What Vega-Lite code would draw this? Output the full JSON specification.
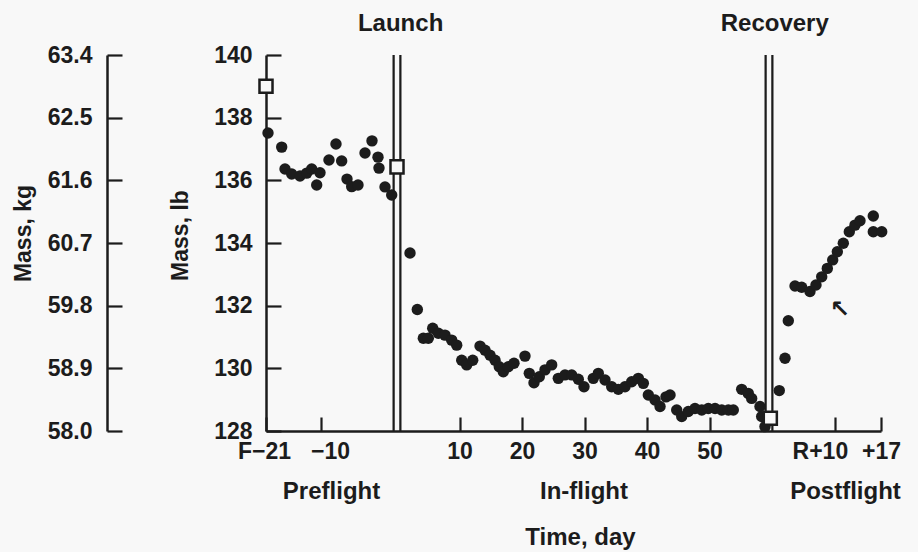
{
  "$schema": "https://vega.github.io/schema/vega-lite/v6.json",
  "width": 615,
  "height": 376,
  "autosize": "none",
  "padding": {"left": 266, "top": 55, "right": 37, "bottom": 121},
  "background": "#f8f8f8",
  "config": {
    "view": {"stroke": null},
    "font": "Liberation Sans",
    "axis": {
      "grid": false,
      "domainColor": "#1c1c1c",
      "domainWidth": 2.5,
      "tickColor": "#1c1c1c",
      "tickWidth": 2.2,
      "labelColor": "#1c1c1c",
      "labelFont": "Liberation Sans",
      "labelFontWeight": "bold",
      "titleColor": "#1c1c1c",
      "titleFont": "Liberation Sans",
      "titleFontWeight": "bold",
      "labelFlush": false,
      "labelOverlap": false
    }
  },
  "datasets": {
    "pts": [
      {"t": -20.6, "lb": 137.51}, {"t": -17.86, "lb": 137.06}, {"t": -17.2, "lb": 136.36}, {"t": -15.86, "lb": 136.2},
      {"t": -14.2, "lb": 136.14}, {"t": -12.86, "lb": 136.23}, {"t": -11.86, "lb": 136.36}, {"t": -10.86, "lb": 135.85},
      {"t": -10.2, "lb": 136.24}, {"t": -8.95, "lb": 136.65}, {"t": -8.03, "lb": 137.16}, {"t": -7.28, "lb": 136.62},
      {"t": -6.58, "lb": 136.04}, {"t": -5.96, "lb": 135.8}, {"t": -5.13, "lb": 135.85}, {"t": -4.21, "lb": 136.87},
      {"t": -3.29, "lb": 137.26}, {"t": -2.5, "lb": 136.74}, {"t": -2.37, "lb": 136.39}, {"t": -1.58, "lb": 135.79},
      {"t": -0.7, "lb": 135.53},
      {"t": 2.08, "lb": 133.68}, {"t": 3.25, "lb": 131.88}, {"t": 4.21, "lb": 130.96}, {"t": 5.01, "lb": 130.96},
      {"t": 5.71, "lb": 131.28}, {"t": 6.61, "lb": 131.12}, {"t": 7.68, "lb": 131.06}, {"t": 8.75, "lb": 130.9},
      {"t": 9.55, "lb": 130.74}, {"t": 10.35, "lb": 130.26}, {"t": 11.15, "lb": 130.11}, {"t": 12.11, "lb": 130.26},
      {"t": 13.28, "lb": 130.71}, {"t": 14.08, "lb": 130.58}, {"t": 14.88, "lb": 130.42}, {"t": 15.68, "lb": 130.26},
      {"t": 16.36, "lb": 130.05}, {"t": 17.0, "lb": 129.89}, {"t": 17.8, "lb": 130.05}, {"t": 18.71, "lb": 130.16},
      {"t": 20.47, "lb": 130.39}, {"t": 21.16, "lb": 129.84}, {"t": 21.91, "lb": 129.54}, {"t": 22.76, "lb": 129.73},
      {"t": 23.67, "lb": 129.95}, {"t": 24.74, "lb": 130.11}, {"t": 25.8, "lb": 129.68}, {"t": 26.87, "lb": 129.79},
      {"t": 27.94, "lb": 129.79}, {"t": 29.0, "lb": 129.65}, {"t": 29.91, "lb": 129.41}, {"t": 31.4, "lb": 129.68},
      {"t": 32.2, "lb": 129.84}, {"t": 33.27, "lb": 129.63}, {"t": 34.34, "lb": 129.41}, {"t": 35.4, "lb": 129.33},
      {"t": 36.47, "lb": 129.41}, {"t": 37.54, "lb": 129.57}, {"t": 38.6, "lb": 129.68}, {"t": 39.4, "lb": 129.52},
      {"t": 40.2, "lb": 129.15}, {"t": 41.27, "lb": 128.99}, {"t": 42.07, "lb": 128.78}, {"t": 43.03, "lb": 129.09},
      {"t": 43.67, "lb": 129.15}, {"t": 44.74, "lb": 128.67}, {"t": 45.54, "lb": 128.46}, {"t": 46.59, "lb": 128.62},
      {"t": 47.66, "lb": 128.72}, {"t": 48.74, "lb": 128.67}, {"t": 49.79, "lb": 128.72}, {"t": 50.87, "lb": 128.72},
      {"t": 51.94, "lb": 128.67}, {"t": 53.0, "lb": 128.67}, {"t": 53.79, "lb": 128.67}, {"t": 55.13, "lb": 129.33},
      {"t": 56.19, "lb": 129.2}, {"t": 56.73, "lb": 129.04}, {"t": 58.06, "lb": 128.78}, {"t": 58.33, "lb": 128.46},
      {"t": 58.86, "lb": 128.14},
      {"t": 61.06, "lb": 129.29}, {"t": 61.93, "lb": 130.32}, {"t": 62.43, "lb": 131.52}, {"t": 63.45, "lb": 132.63},
      {"t": 64.46, "lb": 132.59}, {"t": 65.72, "lb": 132.45}, {"t": 66.63, "lb": 132.66}, {"t": 67.5, "lb": 132.92},
      {"t": 68.35, "lb": 133.19}, {"t": 69.17, "lb": 133.46}, {"t": 69.87, "lb": 133.72}, {"t": 70.78, "lb": 133.99},
      {"t": 71.69, "lb": 134.36}, {"t": 72.55, "lb": 134.57}, {"t": 73.31, "lb": 134.71}, {"t": 75.33, "lb": 134.86},
      {"t": 75.33, "lb": 134.36}, {"t": 76.61, "lb": 134.36}
    ],
    "squares": [
      {"t": -21, "lb": 139.0},
      {"t": 0, "lb": 136.43},
      {"t": 59.7, "lb": 128.41}
    ],
    "events": [
      {"t": 0, "event": "Launch"},
      {"t": 59.5, "event": "Recovery"}
    ],
    "notes": [
      {"t": 70.3, "lb": 131.86, "note": "↖"}
    ],
    "kgrange": [{"kg": 58.0}, {"kg": 63.4}]
  },
  "layer": [
    {
      "data": {"name": "kgrange"},
      "mark": {"type": "point", "opacity": 0},
      "encoding": {
        "y": {
          "field": "kg",
          "type": "quantitative",
          "scale": {"domain": [58.0, 63.4], "nice": false, "zero": false},
          "axis": {
            "orient": "left",
            "offset": 159,
            "values": [58.0, 58.9, 59.8, 60.7, 61.6, 62.5, 63.4],
            "format": ".1f",
            "tickSize": -15,
            "labelPadding": 30,
            "labelFontSize": 23,
            "title": "Mass, kg",
            "titleFontSize": 23,
            "titleX": -84,
            "titleY": 178,
            "titleBaseline": "middle",
            "titleAlign": "center",
            "titleAngle": -90
          }
        }
      }
    },
    {
      "layer": [
        {
          "data": {"name": "events"},
          "mark": {"type": "rule", "color": "#1c1c1c", "strokeWidth": 9},
          "encoding": {
            "x": {
              "field": "t",
              "type": "quantitative",
              "scale": {"domain": [-21, -10, 0, 59.5, 76.5], "range": [0, 55, 131, 503, 615], "nice": false, "zero": false},
              "axis": {
                "orient": "top",
                "values": [0.5, 60.3],
                "labelExpr": "datum.value < 30 ? 'Launch' : 'Recovery'",
                "domain": false,
                "ticks": false,
                "labelPadding": 20,
                "labelFontSize": 24,
                "title": null
              }
            }
          }
        },
        {
          "data": {"name": "events"},
          "mark": {"type": "rule", "color": "#f8f8f8", "strokeWidth": 4.5},
          "encoding": {
            "x": {
              "field": "t",
              "type": "quantitative",
              "axis": {
                "orient": "bottom",
                "values": [-8.68, 29.83, 71.04],
                "labelExpr": "datum.value < 0 ? 'Preflight' : (datum.value < 60 ? 'In-flight' : 'Postflight')",
                "domain": false,
                "ticks": false,
                "labelPadding": 48,
                "labelFontSize": 24,
                "title": "Time, day",
                "titleFontSize": 24,
                "titleX": 314,
                "titleY": 94,
                "titleBaseline": "top",
                "titleAlign": "center"
              }
            }
          }
        },
        {
          "data": {"name": "pts"},
          "mark": {"type": "circle", "size": 130, "color": "#1c1c1c", "opacity": 1},
          "encoding": {
            "x": {
              "field": "t",
              "type": "quantitative",
              "axis": {
                "orient": "bottom",
                "zindex": 1,
                "values": [-21, -10, 10, 20, 30, 40, 50, 69.5, 76.5],
                "labelExpr": "datum.value == -21 ? 'F−21' : (datum.value == -10 ? '−10' : (datum.value == 69.5 ? 'R+10' : (datum.value == 76.5 ? '+17' : datum.label)))",
                "labelOffset": {"condition": [{"test": "datum.value == -21", "value": -2}, {"test": "datum.value == -10", "value": 9}, {"test": "datum.value == 69.5", "value": -15}], "value": 0},
                "tickSize": -14,
                "labelPadding": 23,
                "labelFontSize": 23,
                "title": null
              }
            },
            "y": {
              "field": "lb",
              "type": "quantitative",
              "scale": {"domain": [128, 140], "nice": false, "zero": false},
              "axis": {
                "orient": "left",
                "values": [128, 130, 132, 134, 136, 138, 140],
                "tickSize": -15,
                "labelPadding": 29,
                "labelFontSize": 23,
                "title": "Mass, lb",
                "titleFontSize": 23,
                "titleX": -86,
                "titleY": 180,
                "titleBaseline": "middle",
                "titleAlign": "center",
                "titleAngle": -90
              }
            }
          }
        },
        {
          "data": {"name": "squares"},
          "mark": {"type": "point", "shape": "square", "filled": true, "fill": "#f8f8f8", "stroke": "#1c1c1c", "strokeWidth": 2.5, "size": 170, "opacity": 1},
          "encoding": {
            "x": {"field": "t", "type": "quantitative", "axis": null},
            "y": {"field": "lb", "type": "quantitative", "axis": null}
          }
        },
        {
          "data": {"name": "notes"},
          "mark": {"type": "text", "fontSize": 24, "color": "#1c1c1c", "font": "DejaVu Sans", "fontWeight": "bold"},
          "encoding": {
            "x": {"field": "t", "type": "quantitative", "axis": null},
            "y": {"field": "lb", "type": "quantitative", "axis": null},
            "text": {"field": "note"}
          }
        }
      ],
      "resolve": {"axis": {"x": "independent", "y": "independent"}}
    }
  ],
  "resolve": {"scale": {"y": "independent"}, "axis": {"y": "independent"}}
}
